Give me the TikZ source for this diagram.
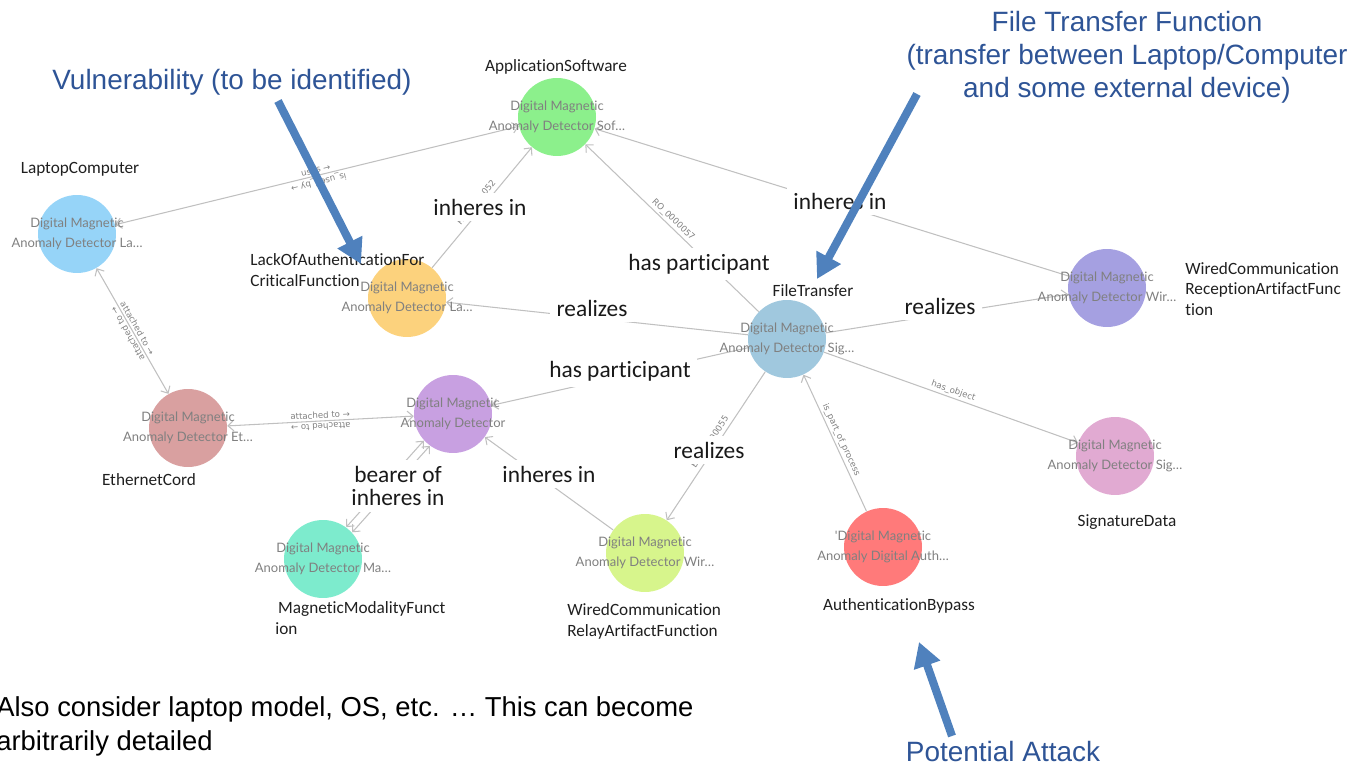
\documentclass[tikz,border=0pt]{standalone}
\usepackage{fontspec}
\setmainfont{Carlito}[Ligatures=NoCommon]
\newfontfamily\calloutfont{Liberation Sans}
\newfontfamily\innerfont{Lato}[Ligatures=NoCommon]
\newfontfamily\edgefont{DejaVu Sans}
\usetikzlibrary{arrows.meta,calc}

\definecolor{edgegray}{RGB}{192,192,192}
\definecolor{innergray}{RGB}{128,128,128}
\definecolor{calloutblue}{RGB}{46,84,150}
\definecolor{arrowblue}{RGB}{79,129,189}
\definecolor{cApp}{RGB}{140,240,140}
\definecolor{cLap}{RGB}{150,212,248}
\definecolor{cLack}{RGB}{252,210,125}
\definecolor{cFT}{RGB}{160,200,222}
\definecolor{cRec}{RGB}{165,160,225}
\definecolor{cEth}{RGB}{217,160,160}
\definecolor{cDmad}{RGB}{200,160,225}
\definecolor{cMag}{RGB}{125,235,205}
\definecolor{cRelay}{RGB}{215,245,140}
\definecolor{cAuth}{RGB}{255,122,122}
\definecolor{cSig}{RGB}{225,170,210}

\tikzset{
  ent/.style={circle, minimum size=1.56cm, inner sep=0pt, draw=none},
  inn/.style={font=\innerfont\fontsize{7.4}{11.3}\selectfont, text=innergray, align=center, inner sep=0pt},
  nlab/.style={font=\fontsize{9.8}{11.9}\selectfont, text=black!88, inner sep=0pt, align=left},
  ovl/.style={font=\fontsize{13.3}{13.3}\selectfont, text=black!90, fill=white, inner sep=3.5pt, align=center},
  link/.style={draw=edgegray, line width=0.6pt},
  uni/.style={link, -{Straight Barb[length=3.2pt,width=6pt]}},
  bi/.style={link, {Straight Barb[length=3.2pt,width=6pt]}-{Straight Barb[length=3.2pt,width=6pt]}},
  elab/.style={font=\edgefont\fontsize{4.9}{5.5}\selectfont, text=innergray, inner sep=1.2pt},
  callout/.style={font=\calloutfont\fontsize{15.9}{18.7}\selectfont, text=calloutblue, align=center, inner sep=0pt},
  callarrow/.style={draw=arrowblue, line width=4.6pt, -{Triangle[length=14pt,width=15pt]}}
}

\begin{document}
\begin{tikzpicture}[x=0.02cm,y=-0.02cm]
\useasboundingbox (0,0) rectangle (1348,766);
\clip (0,0) rectangle (1348,766);

% entity circles
\node[ent, fill=cApp]   (app)   at (557,117) {};
\node[ent, fill=cLap]   (lap)   at (77,234)  {};
\node[ent, fill=cLack]  (lack)  at (407,298) {};
\node[ent, fill=cFT]    (ft)    at (787,339) {};
\node[ent, fill=cRec]   (rec)   at (1107,288) {};
\node[ent, fill=cEth]   (eth)   at (188,428) {};
\node[ent, fill=cDmad]  (dmad)  at (453,414) {};
\node[ent, fill=cMag]   (mag)   at (323,559) {};
\node[ent, fill=cRelay] (relay) at (645,553) {};
\node[ent, fill=cAuth]  (auth)  at (883,547) {};
\node[ent, fill=cSig]   (sig)   at (1115,456) {};

% relations
\draw[bi] (lap) -- (app);
\path (lap) -- (app) node[elab, sloped, above, midway] (lbUses) {uses →};
\path (app) -- (lap) node[elab, sloped, above, midway, allow upside down] (lbUsedBy) {is\_used\_by →};

\draw[bi] (lap) -- (eth);
\path (lap) -- (eth) node[elab, sloped, above, midway] (lbAtt1) {attached to →};
\path (eth) -- (lap) node[elab, sloped, above, midway, allow upside down] (lbAtt2) {attached to →};

\draw[bi] (eth) -- (dmad);
\path (eth) -- (dmad) node[elab, sloped, above, midway] (lbAtt3) {attached to →};
\path (dmad) -- (eth) node[elab, sloped, above, midway, allow upside down] (lbAtt4) {attached to →};

\draw[uni] (lack) -- (app);
\path (lack) -- (app) node[elab, sloped, above, midway] (lbInh1) {RO\_0000052};

\draw[uni] (ft) -- (app);
\path (app) -- (ft) node[elab, sloped, above, pos=0.48] (lbPart1) {RO\_0000057};

\draw[uni] (rec) -- (app);
\draw[uni] (ft) -- (lack);
\draw[uni] (ft) -- (rec);
\draw[uni] (ft) -- (dmad);
\draw[uni] (relay) -- (dmad);

\draw[bi, transform canvas={xshift=0.06cm, yshift=-0.052cm}] (dmad) -- (mag);
\draw[bi, transform canvas={xshift=-0.06cm, yshift=0.052cm}] (dmad) -- (mag);

\draw[uni] (ft) -- (relay);
\path (relay) -- (ft) node[elab, sloped, above, midway] (lbReal) {BFO\_0000055};

\draw[uni] (auth) -- (ft);
\path (ft) -- (auth) node[elab, sloped, above, midway] (lbPartOf) {is\_part\_of\_process};

\draw[uni] (ft) -- (sig);
\path (ft) -- (sig) node[elab, sloped, above, midway] (lbObj) {has\_object};

% text inside the circles
\node[inn] (appIn)   at (app)   {Digital Magnetic\\Anomaly Detector Sof…};
\node[inn] (lapIn)   at (lap)   {Digital Magnetic\\Anomaly Detector La…};
\node[inn] (lackIn)  at (lack)  {Digital Magnetic\\Anomaly Detector La…};
\node[inn] (ftIn)    at (ft)    {Digital Magnetic\\Anomaly Detector Sig…};
\node[inn] (recIn)   at (rec)   {Digital Magnetic\\Anomaly Detector Wir…};
\node[inn] (ethIn)   at (eth)   {Digital Magnetic\\Anomaly Detector Et…};
\node[inn] (dmadIn)  at (dmad)  {Digital Magnetic\\Anomaly Detector};
\node[inn] (magIn)   at (mag)   {Digital Magnetic\\Anomaly Detector Ma…};
\node[inn] (relayIn) at (relay) {Digital Magnetic\\Anomaly Detector Wir…};
\node[inn] (authIn)  at (auth)  {'Digital Magnetic\\Anomaly Digital Auth…};
\node[inn] (sigIn)   at (sig)   {Digital Magnetic\\Anomaly Detector Sig…};

% entity names
\node[nlab] (appL) at (556,67) {ApplicationSoftware};
\node[nlab] (lapL) at (80,169) {LaptopComputer};
\node[nlab, anchor=west] (lackL) at (250,270) {LackOfAuthenticationFor\\CriticalFunction};
\node[nlab] (ftL) at (813,291) {FileTransfer};
\node[nlab, anchor=west] (recL) at (1185,289) {WiredCommunication\\ReceptionArtifactFunc\\tion};
\node[nlab] (ethL) at (149,480) {EthernetCord};
\node[nlab, anchor=west] (magL) at (275,618) {\,MagneticModalityFunct\\ion};
\node[nlab, anchor=west] (relayL) at (567,621) {WiredCommunication\\RelayArtifactFunction};
\node[nlab] (authL) at (899,606) {AuthenticationBypass};
\node[nlab] (sigL) at (1127,522) {SignatureData};

% relation names
\node[ovl] (oInh1)  at (480,207) {inheres in};
\node[ovl] (oPart1) at (699,264) {has participant};
\node[ovl] (oInh2)  at (840,201) {inheres in};
\node[ovl] (oReal1) at (592,308) {realizes};
\node[ovl] (oReal2) at (940,306) {realizes};
\node[ovl] (oPart2) at (620,371) {has participant};
\node[ovl, font=\fontsize{13.3}{13.1}\selectfont] (oBear) at (398,486) {bearer of\\inheres in};
\node[ovl] (oInh3)  at (549,474) {inheres in};
\node[ovl] (oReal3) at (709,450) {realizes};

% annotations
\node[callout] (vuln) at (232,82) {Vulnerability (to be identified)};
\node[callout] (ftNote) at (1127,57) {File Transfer Function\\(transfer between Laptop/Computer\\and some external device)};
\node[callout] (attack) at (1003,752) {Potential Attack};
\node[callout, text=black, align=left, anchor=west, font=\calloutfont\fontsize{15.6}{19.3}\selectfont] (note) at (-4,726) {Also consider laptop model, OS, etc. … This can become\\arbitrarily detailed};

\coordinate (vulnTail) at (278,101);
\coordinate (vulnTip) at (361,264);
\coordinate (ftTail) at (917,94);
\coordinate (ftTip) at (817,279);
\coordinate (atkTail) at (952,736);
\coordinate (atkTip) at (919,642);
\draw[callarrow] (vulnTail) -- (vulnTip);
\draw[callarrow] (ftTail) -- (ftTip);
\draw[callarrow] (atkTail) -- (atkTip);
\end{tikzpicture}
\end{document}
